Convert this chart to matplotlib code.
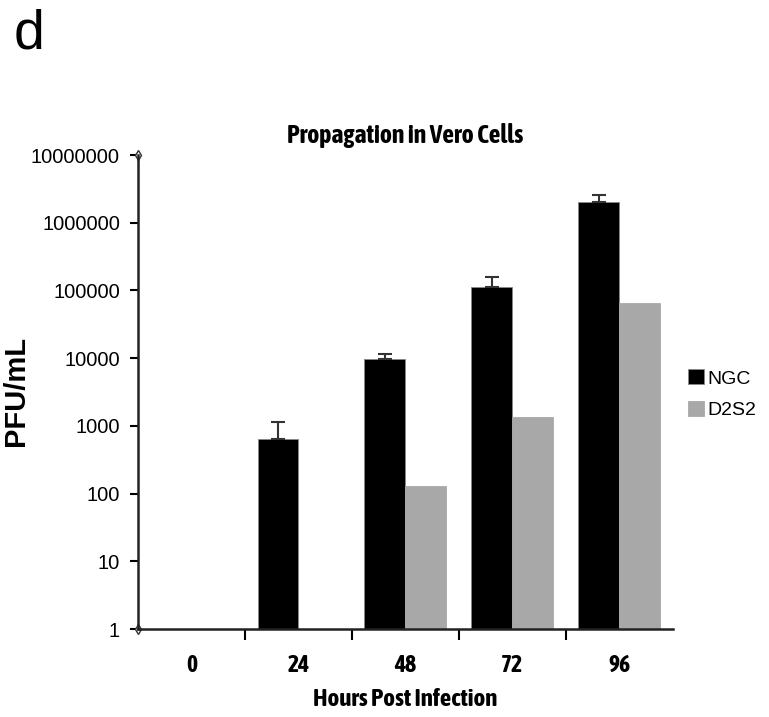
import numpy as np
import matplotlib.pyplot as plt
from matplotlib.ticker import FixedLocator, NullFormatter
from matplotlib import font_manager

# data (PFU/mL)
hours = ['0', '24', '48', '72', '96']
ngc = [np.nan, 640, 9750, 112000, 2030000]
ngc_err = [0, 500, 1800, 46000, 550000]
d2s2 = [np.nan, np.nan, 130, 1350, 65600]

plt.rcParams['font.family'] = ['Liberation Sans', 'DejaVu Sans']

# bold condensed face for title / x labels, if there is one
bold_cond = sorted({f.name for f in font_manager.fontManager.ttflist
                    if ('Narrow' in f.name or 'Condensed' in f.name)
                    and f.weight in (600, 700, 800, 'bold')})
narrow = bold_cond[:1] + ['Liberation Sans', 'DejaVu Sans']

fig = plt.figure(figsize=(7.69, 7.17), dpi=100)
ax = fig.add_axes([0.1795, 0.1227, 0.6955, 0.6611])

x = np.arange(len(hours))
w = 0.383
ax.bar(x - w / 2, ngc, w, color='black', edgecolor='#888888', linewidth=0.6,
       label='NGC')
ax.errorbar(x - w / 2, ngc, yerr=[np.zeros(len(ngc)), ngc_err], fmt='none',
            ecolor='#333333', elinewidth=1.5, capsize=5, capthick=1.5)
ax.bar(x + w / 2, d2s2, w, color='#a8a8a8', edgecolor='#a8a8a8', linewidth=0.6,
       label='D2S2')

ax.set_yscale('log')
ax.set_ylim(1, 1e7)
ax.set_xlim(-0.5, len(hours) - 0.5)

ax.yaxis.set_major_locator(FixedLocator([10 ** k for k in range(8)]))
ax.set_yticklabels([str(10 ** k) for k in range(8)], fontsize=14.5)
ax.yaxis.set_minor_locator(FixedLocator([]))
ax.tick_params(axis='y', direction='out', length=6, width=1.5, pad=7)

ax.set_xticks(x)
ax.set_xticklabels(hours, fontsize=17, fontweight='bold', family=narrow)
ax.tick_params(axis='x', which='major', length=0, pad=18)
ax.xaxis.set_minor_locator(FixedLocator(x[:-1] + 0.5))
ax.xaxis.set_minor_formatter(NullFormatter())
ax.tick_params(axis='x', which='minor', direction='out', length=8, width=1.5)

for s in ['top', 'right']:
    ax.spines[s].set_visible(False)
for s in ['left', 'bottom']:
    ax.spines[s].set_linewidth(1.8)
    ax.spines[s].set_color('#222222')

# little open diamonds at the axis ends
ax.plot([0, 0], [0, 1], 'd', transform=ax.transAxes, clip_on=False,
        ms=5, mfc='white', mec='#333333', mew=1)

ax.set_title('Propagation in Vero Cells', fontsize=18.5, fontweight='bold',
             family=narrow, pad=9)
ax.set_xlabel('Hours Post Infection', fontsize=18, fontweight='bold',
              family=narrow, labelpad=8)
fig.text(0.002, 0.455, 'PFU/mL', rotation=90, fontsize=21, fontweight='bold',
         ha='left', va='center')
fig.text(0.018, 0.988, 'd', fontsize=40, ha='left', va='top')

ax.legend(loc='center left', bbox_to_anchor=(0.885, 0.45), bbox_transform=fig.transFigure,
          frameon=False, fontsize=14, handlelength=0.8, handleheight=0.8,
          handletextpad=0.2, labelspacing=0.7, borderaxespad=0)

fig.savefig('out.png', dpi=100)
